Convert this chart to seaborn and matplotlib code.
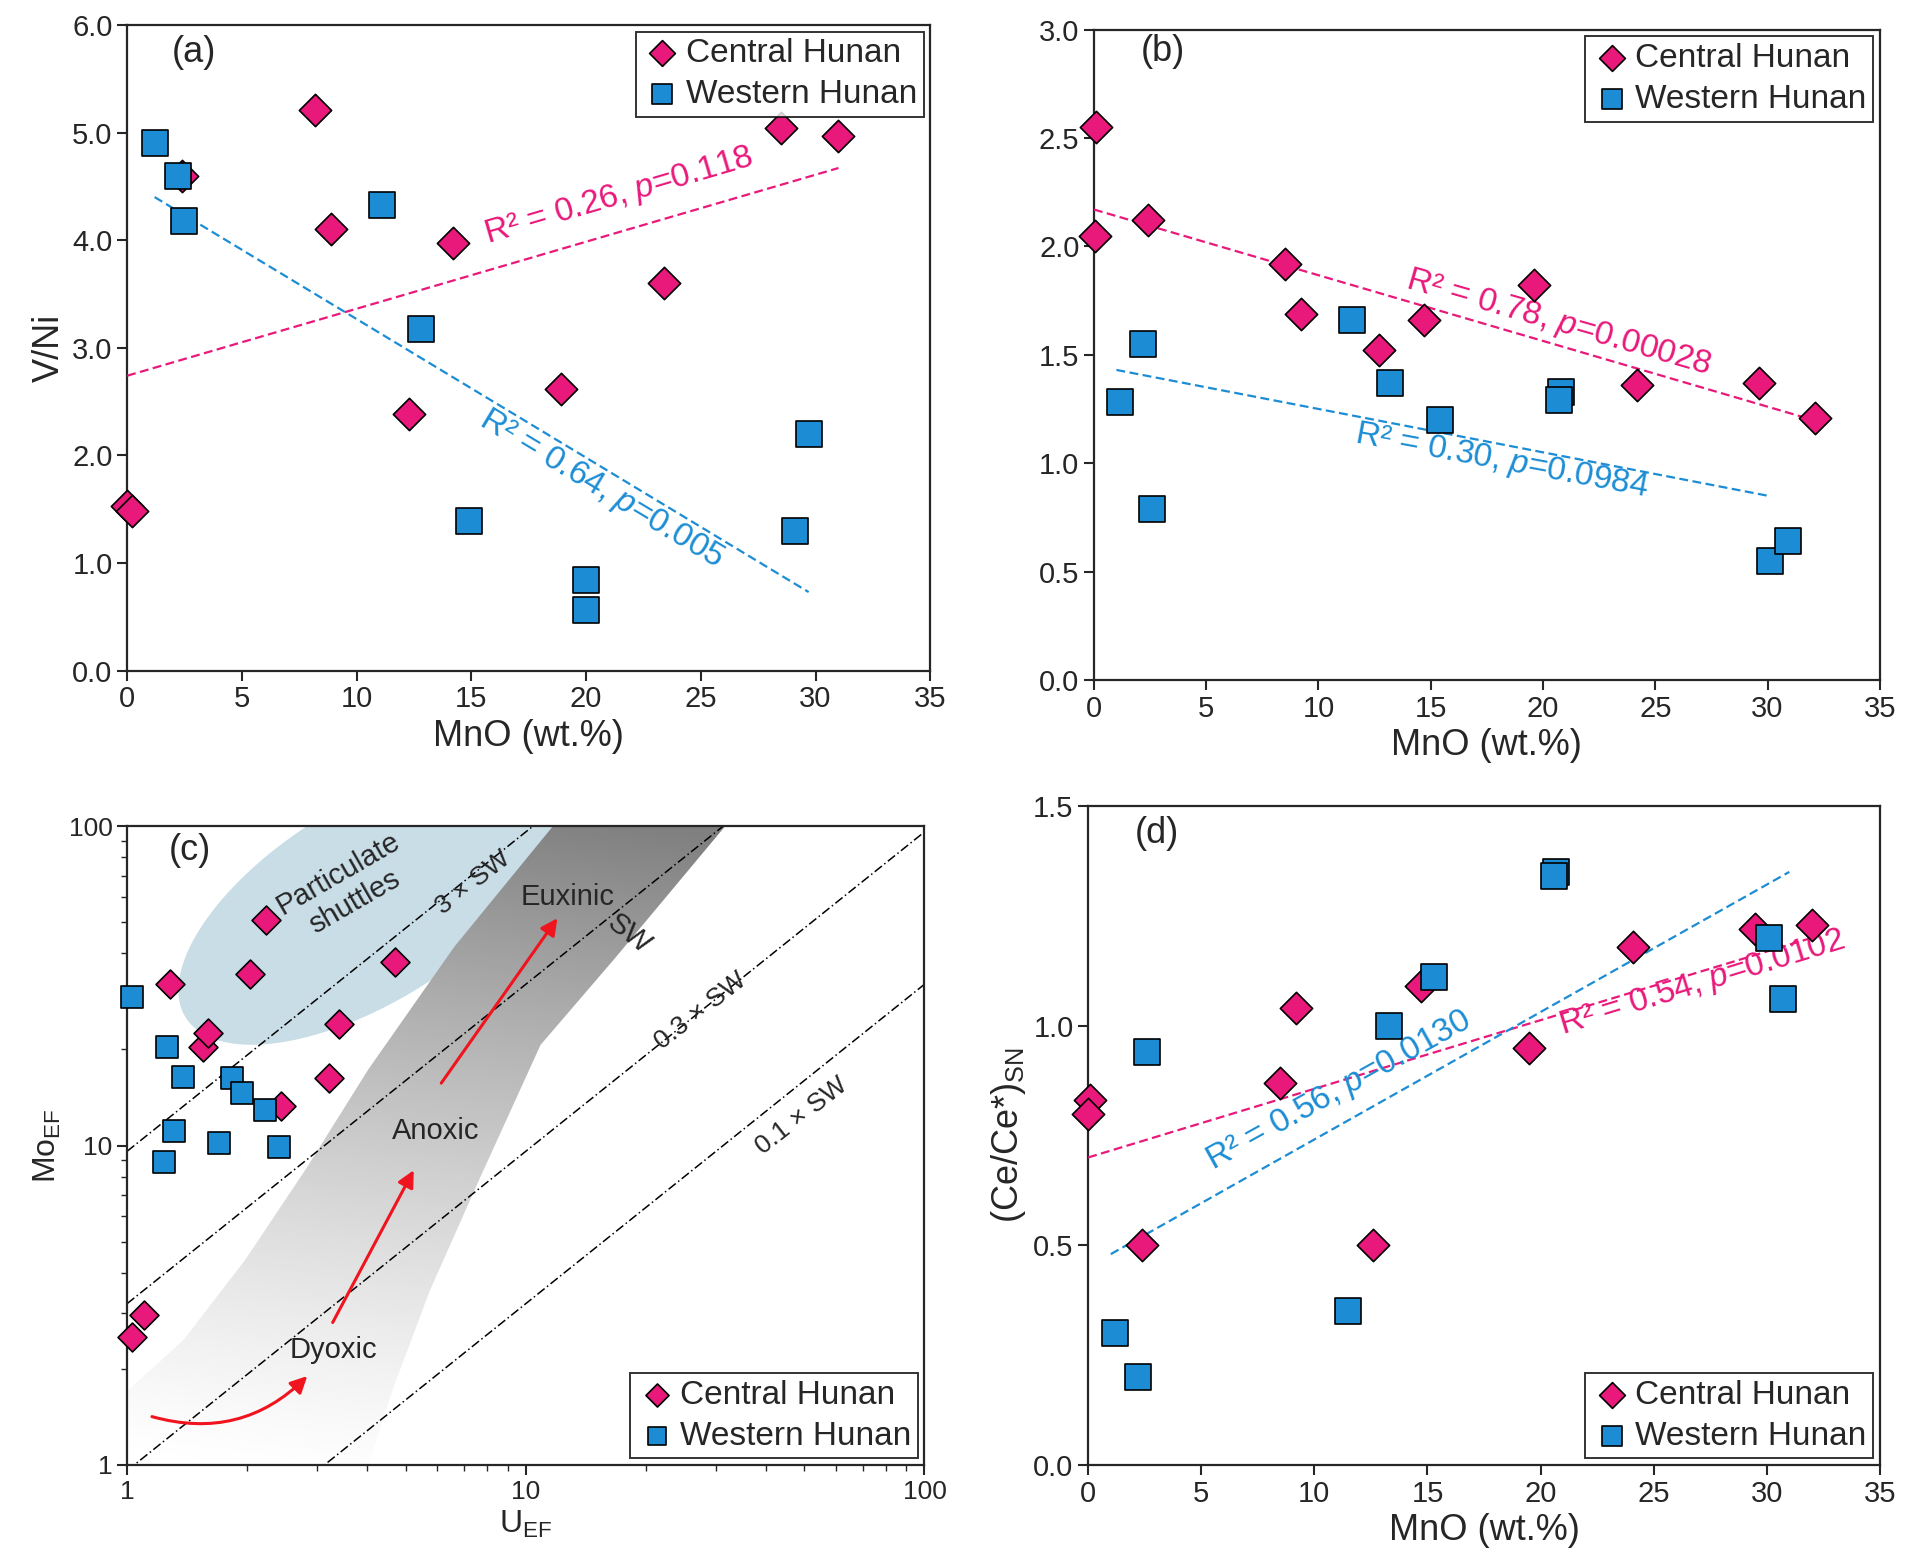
import numpy as np
import pandas as pd
import matplotlib
matplotlib.use("Agg")
import matplotlib.pyplot as plt
import seaborn as sns
from matplotlib.patches import Polygon, FancyArrowPatch
from matplotlib.ticker import MultipleLocator, FormatStrFormatter

sns.set_style("ticks")
plt.rcParams['font.family'] = ['Liberation Sans', 'DejaVu Sans']
plt.rcParams['mathtext.fontset'] = 'custom'
plt.rcParams['mathtext.rm'] = 'Liberation Sans'
plt.rcParams['mathtext.it'] = 'Liberation Sans:italic'

PINK = '#E8197A'
BLUE = '#1C8DD4'

# ---- data ----
a_c_x = [0, 0.2, 2.4, 8.2, 8.9, 14.2, 12.3, 18.9, 23.4, 28.5, 31.0]
a_c_y = [1.53, 1.48, 4.6, 5.21, 4.1, 3.97, 2.38, 2.62, 3.6, 5.04, 4.97]
a_w_x = [1.2, 2.2, 2.5, 11.1, 12.8, 14.9, 20.0, 20.0, 29.1, 29.7]
a_w_y = [4.9, 4.6, 4.18, 4.33, 3.17, 1.39, 0.84, 0.56, 1.3, 2.2]
a_c_fit = ([0, 31], [2.74, 4.67])
a_w_fit = ([1.2, 29.7], [4.4, 0.73])

b_c_x = [0.1, 0.05, 2.4, 8.5, 9.2, 12.7, 14.7, 19.6, 24.2, 29.6, 32.1]
b_c_y = [2.55, 2.05, 2.12, 1.92, 1.69, 1.52, 1.66, 1.82, 1.36, 1.37, 1.21]
b_w_x = [1.15, 2.2, 2.6, 11.5, 13.2, 15.4, 20.8, 20.7, 30.1, 30.9]
b_w_y = [1.28, 1.55, 0.79, 1.66, 1.37, 1.2, 1.33, 1.29, 0.55, 0.64]
b_c_fit = ([0, 32], [2.17, 1.2])
b_w_fit = ([1, 30], [1.43, 0.85])

c_c_x = [1.03, 1.10, 1.28, 1.55, 1.6, 2.23, 2.03, 2.43, 3.2, 3.4, 4.7]
c_c_y = [2.51, 2.94, 32, 20.3, 22.6, 51, 34.5, 13.3, 16.3, 24, 37.7]
c_w_x = [1.03, 1.26, 1.38, 1.31, 1.24, 1.7, 1.83, 1.94, 2.22, 2.4]
c_w_y = [29.2, 20.4, 16.4, 11.1, 8.9, 10.2, 16.3, 14.6, 12.9, 9.9]
SW_RATIO = 3.2
sw_mult = [3, 1, 0.3, 0.1]

d_c_x = [0.1, 0, 2.4, 8.5, 9.2, 12.6, 14.7, 19.5, 24.1, 29.5, 32.0]
d_c_y = [0.83, 0.80, 0.50, 0.87, 1.04, 0.50, 1.09, 0.95, 1.18, 1.22, 1.23]
d_w_x = [1.2, 2.2, 2.6, 11.5, 13.3, 15.3, 20.7, 20.6, 30.1, 30.7]
d_w_y = [0.30, 0.20, 0.94, 0.35, 1.00, 1.11, 1.35, 1.34, 1.20, 1.06]
d_c_fit = ([0, 32], [0.70, 1.20])
d_w_fit = ([1, 31], [0.48, 1.35])

fig = plt.figure(figsize=(19.26, 15.56), dpi=100)
axA = fig.add_axes([0.066, 0.569, 0.417, 0.415])
axB = fig.add_axes([0.568, 0.563, 0.408, 0.418])
axC = fig.add_axes([0.066, 0.0585, 0.414, 0.4105])
axD = fig.add_axes([0.565, 0.0585, 0.411, 0.4235])

FS_T = 21
FS_L = 25

def scat(ax, cx, cy, wx, wy, k=1.0):
    dfc = pd.DataFrame({'x': cx, 'y': cy})
    dfw = pd.DataFrame({'x': wx, 'y': wy})
    sns.scatterplot(data=dfc, x='x', y='y', ax=ax, marker='D', s=270 * k, color=PINK,
                    edgecolor='black', linewidth=1.2, label='Central Hunan', zorder=5, clip_on=False)
    sns.scatterplot(data=dfw, x='x', y='y', ax=ax, marker='s', s=340 * k, color=BLUE,
                    edgecolor='black', linewidth=1.2, label='Western Hunan', zorder=5, clip_on=False)

def style(ax):
    for s in ax.spines.values():
        s.set_linewidth(1.6)
    ax.tick_params(labelsize=FS_T, width=1.5, length=7)

def leg(ax, loc):
    l = ax.legend(loc=loc, fontsize=FS_L - 1, frameon=True, fancybox=False, edgecolor='black',
                  borderaxespad=0.2, handletextpad=0.1, borderpad=0.2, labelspacing=0.3,
                  handlelength=1.2, markerscale=0.8)
    l.get_frame().set_linewidth(1.4)

def fitline(ax, fit, color):
    ax.plot(fit[0], fit[1], ls=(0, (4, 2)), color=color, lw=1.6, zorder=3)

def lab(ax, x, y, text, color, rot):
    ax.text(x, y, text, color=color, rotation=rot, transform=ax.transAxes,
            ha='center', va='center', fontsize=FS_L - 1, rotation_mode='anchor')

# ---- (a) ----
scat(axA, a_c_x, a_c_y, a_w_x, a_w_y)
fitline(axA, a_c_fit, PINK)
fitline(axA, a_w_fit, BLUE)
axA.set_xlim(0, 35); axA.set_ylim(0, 6)
axA.xaxis.set_major_locator(MultipleLocator(5))
axA.yaxis.set_major_locator(MultipleLocator(1))
axA.yaxis.set_major_formatter(FormatStrFormatter('%.1f'))
axA.set_xlabel('MnO (wt.%)', fontsize=FS_L + 1)
axA.set_ylabel('V/Ni', fontsize=FS_L + 1)
lab(axA, 0.613, 0.734, 'R² = 0.26, $p$=0.118', PINK, 16.4)
lab(axA, 0.590, 0.281, 'R² = 0.64, $p$=0.005', BLUE, -31)
axA.text(0.055, 0.958, '(a)', transform=axA.transAxes, fontsize=FS_L + 1, va='center')
leg(axA, 'upper right'); style(axA)

# ---- (b) ----
scat(axB, b_c_x, b_c_y, b_w_x, b_w_y)
fitline(axB, b_c_fit, PINK)
fitline(axB, b_w_fit, BLUE)
axB.set_xlim(0, 35); axB.set_ylim(0, 3)
axB.xaxis.set_major_locator(MultipleLocator(5))
axB.yaxis.set_major_locator(MultipleLocator(0.5))
axB.yaxis.set_major_formatter(FormatStrFormatter('%.1f'))
axB.set_xlabel('MnO (wt.%)', fontsize=FS_L + 1)
axB.set_ylabel('')
lab(axB, 0.591, 0.548, 'R² = 0.78, $p$=0.00028', PINK, -16)
lab(axB, 0.519, 0.336, 'R² = 0.30, $p$=0.0984', BLUE, -10.5)
axB.text(0.06, 0.966, '(b)', transform=axB.transAxes, fontsize=FS_L + 1, va='center')
leg(axB, 'upper right'); style(axB)

# ---- (c) ----
axC.set_xscale('log'); axC.set_yscale('log')
axC.set_xlim(1, 100); axC.set_ylim(1, 100)
def px(p):
    return [((x - 104) / 648, (1192 - y) / 520) for x, y in p]
# particulate shuttle ellipse (pixel-space shape, axes coords)
t = np.linspace(0, 2 * np.pi, 200)
ang = np.deg2rad(32)
ex = 300 + 175 * np.cos(t) * np.cos(ang) - 80 * np.sin(t) * np.sin(ang)
ey = 735 - (175 * np.cos(t) * np.sin(ang) + 80 * np.sin(t) * np.cos(ang))
bp = Polygon(px(list(zip(ex, ey))), closed=True, transform=axC.transAxes,
             facecolor='#C9DDE7', edgecolor='none', zorder=1)
axC.add_patch(bp)
band = px([(104, 1192), (104, 1132), (150, 1090), (200, 1025), (250, 950), (300, 870),
           (370, 770), (450, 672), (590, 672), (500, 780), (440, 850), (390, 960),
           (350, 1050), (320, 1130), (300, 1192)])
bandp = Polygon(band, closed=True, transform=axC.transAxes, facecolor='none', edgecolor='none')
axC.add_patch(bandp)
gy, gx = np.mgrid[0:1:300j, 0:1:300j]
g = 1 - 0.5 * np.clip(0.9 * gy + 0.15 * gx, 0, 1) ** 1.3
im = axC.imshow(g, cmap='gray', vmin=0, vmax=1, origin='lower', extent=[0, 1, 0, 1],
                transform=axC.transAxes, aspect='auto', zorder=1)
im.set_clip_path(bandp)
xs = np.array([1, 100])
for m in sw_mult:
    axC.plot(xs, m * SW_RATIO * xs, ls=(0, (6, 2, 1, 2)), color='black', lw=1.1, zorder=2)
axC.set_xlim(1, 100); axC.set_ylim(1, 100)
scat(axC, c_c_x, c_c_y, c_w_x, c_w_y, k=0.8)
arr = dict(arrowstyle='-|>', mutation_scale=25, color='#F0141E', lw=2.2)
def pa(x, y):
    return ((x - 104) / 648, (1192 - y) / 520)
axC.add_patch(FancyArrowPatch(pa(122, 1152), pa(252, 1118), connectionstyle='arc3,rad=0.3',
                              transform=axC.transAxes, zorder=4, **arr))
axC.add_patch(FancyArrowPatch(pa(270, 1078), pa(338, 950), transform=axC.transAxes, zorder=4, **arr))
axC.add_patch(FancyArrowPatch(pa(358, 883), pa(455, 745), transform=axC.transAxes, zorder=4, **arr))
def tc(x, y, s, rot=0, fs=FS_L - 4):
    axC.text(*pa(x, y), s, transform=axC.transAxes, fontsize=fs, rotation=rot,
             ha='center', va='center', zorder=6)
tc(272, 1098, 'Dyoxic')
tc(355, 920, 'Anoxic')
tc(462, 730, 'Euxinic')
tc(512, 760, 'SW', rot=-38)
tc(385, 718, '3 × SW', rot=38, fs=FS_L - 6)
tc(570, 822, '0.3 × SW', rot=38, fs=FS_L - 6)
tc(652, 908, '0.1 × SW', rot=38, fs=FS_L - 6)
tc(282, 722, 'Particulate\nshuttles', rot=30)
axC.set_xticks([1, 10, 100]); axC.set_xticklabels(['1', '10', '100'])
axC.set_yticks([1, 10, 100]); axC.set_yticklabels(['1', '10', '100'])
axC.tick_params(which='minor', length=4, width=1)
axC.set_xlabel('U$_{\\mathrm{EF}}$', fontsize=FS_L - 2)
axC.set_ylabel('Mo$_{\\mathrm{EF}}$', fontsize=FS_L - 2)
axC.text(0.052, 0.962, '(c)', transform=axC.transAxes, fontsize=FS_L + 1, va='center')
leg(axC, 'lower right'); style(axC)
axC.tick_params(labelsize=FS_T - 2)

# ---- (d) ----
scat(axD, d_c_x, d_c_y, d_w_x, d_w_y)
fitline(axD, d_c_fit, PINK)
fitline(axD, d_w_fit, BLUE)
axD.set_xlim(0, 35); axD.set_ylim(0, 1.5)
axD.xaxis.set_major_locator(MultipleLocator(5))
axD.yaxis.set_major_locator(MultipleLocator(0.5))
axD.yaxis.set_major_formatter(FormatStrFormatter('%.1f'))
axD.set_xlabel('MnO (wt.%)', fontsize=FS_L + 1)
axD.set_ylabel('(Ce/Ce*)$_{\\mathrm{SN}}$', fontsize=FS_L + 1)
lab(axD, 0.775, 0.731, 'R² = 0.54, $p$=0.0102', PINK, 17)
lab(axD, 0.317, 0.567, 'R² = 0.56, $p$=0.0130', BLUE, 29)
axD.text(0.059, 0.959, '(d)', transform=axD.transAxes, fontsize=FS_L + 1, va='center')
leg(axD, 'lower right'); style(axD)

fig.savefig('out.png', dpi=100)
